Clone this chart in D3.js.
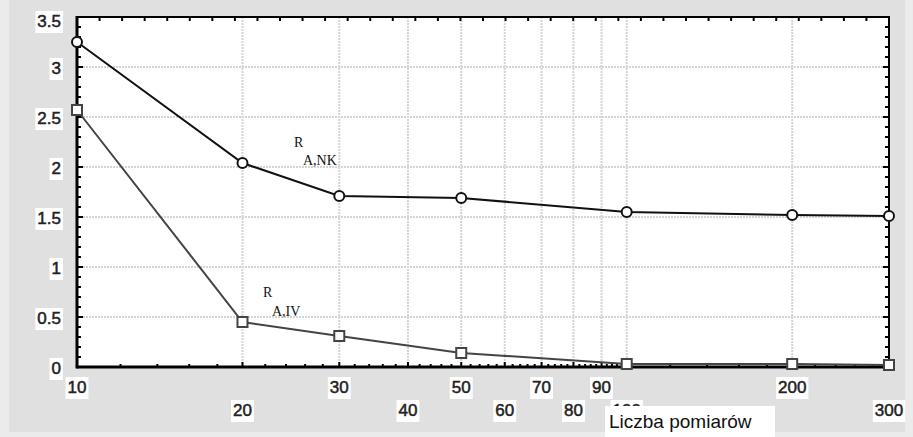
<!DOCTYPE html>
<html>
<head>
<meta charset="utf-8">
<script src="https://cdn.jsdelivr.net/npm/d3@7"></script>
<style>
  body { margin: 0; background: #ebebeb; }
  svg { display: block; }
  .tick-label { font-family: "Liberation Sans", Arial, sans-serif; font-size: 17px; fill: #222; stroke: #222; stroke-width: 0.5px; }
  .ann { font-family: "Liberation Serif", "Times New Roman", serif; font-size: 14px; fill: #111; }
</style>
</head>
<body>
<svg id="chart" width="913" height="437"></svg>
<script>
// dane
var xValues = [10, 20, 30, 50, 100, 200, 300];
var nkValues = [3.25, 2.04, 1.71, 1.69, 1.55, 1.52, 1.51];
var ivValues = [2.57, 0.45, 0.31, 0.14, 0.03, 0.03, 0.02];

var xTickValues = [10, 20, 30, 40, 50, 60, 70, 80, 90, 100, 200, 300];
var xTickLabels = ["10", "20", "30", "40", "50", "60", "70", "80", "90", "100", "200", "300"];
var xGridValues = [20, 30, 40, 50, 60, 70, 80, 90, 100, 200];
var yTickValues = [0, 0.5, 1, 1.5, 2, 2.5, 3, 3.5];
var yTickLabels = ["0", "0.5", "1", "1.5", "2", "2.5", "3", "3.5"];
var xAxisTitle = "Liczba pomiarów";

var svg = d3.select("#chart");
var plotLeft = 77, plotRight = 889, plotTop = 17, plotBottom = 367;

svg.append("rect")
    .attr("x", 9).attr("y", 0)
    .attr("width", 896).attr("height", 432)
    .attr("fill", "#e0e0e0");

var x = d3.scaleLog().domain([10, 300]).range([plotLeft, plotRight]);
var y = d3.scaleLinear().domain([0, 3.5]).range([plotBottom, plotTop]);

// pole wykresu
svg.append("rect")
    .attr("x", plotLeft).attr("y", plotTop)
    .attr("width", plotRight - plotLeft).attr("height", plotBottom - plotTop)
    .attr("fill", "#fff");

// siatka
svg.append("g").selectAll("line")
    .data(xGridValues)
    .enter().append("line")
    .attr("x1", function (d) { return x(d); })
    .attr("x2", function (d) { return x(d); })
    .attr("y1", plotTop).attr("y2", plotBottom)
    .attr("stroke", "#d4d4d4")
    .attr("stroke-width", 2)
    .attr("stroke-dasharray", "2,1");

svg.append("g").selectAll("line")
    .data(yTickValues.slice(1, -1))
    .enter().append("line")
    .attr("x1", plotLeft).attr("x2", plotRight)
    .attr("y1", function (d) { return y(d); })
    .attr("y2", function (d) { return y(d); })
    .attr("stroke", "#d4d4d4")
    .attr("stroke-width", 2)
    .attr("stroke-dasharray", "2,1");

// podzialki osi Y (lewa i prawa)
var yMinor = d3.range(0, 36).map(function (i) { return i / 10; });
function yTicks(x0, dir) {
    svg.append("g").selectAll("line")
        .data(yMinor)
        .enter().append("line")
        .attr("x1", x0)
        .attr("x2", function (d, i) { return x0 + dir * (i % 5 === 0 ? 6 : 4); })
        .attr("y1", function (d) { return y(d); })
        .attr("y2", function (d) { return y(d); })
        .attr("stroke", "#000")
        .attr("stroke-width", 2);
}
yTicks(plotLeft, 1);
yTicks(plotRight, -1);

// podzialki osi X (dolna - log)
var xMinor = [];
[10, 20, 30, 40, 50, 60, 70, 80, 90].forEach(function (b) {
    [2, 4, 6, 8].forEach(function (s) { xMinor.push(b + s); });
});
[100, 200].forEach(function (b) {
    [20, 40, 60, 80].forEach(function (s) { xMinor.push(b + s); });
});
svg.append("g").selectAll("line")
    .data(xMinor)
    .enter().append("line")
    .attr("x1", function (d) { return x(d); })
    .attr("x2", function (d) { return x(d); })
    .attr("y1", plotBottom).attr("y2", plotBottom - 3)
    .attr("stroke", "#000").attr("stroke-width", 2);
svg.append("g").selectAll("line")
    .data(xTickValues)
    .enter().append("line")
    .attr("x1", function (d) { return x(d); })
    .attr("x2", function (d) { return x(d); })
    .attr("y1", plotBottom).attr("y2", plotBottom - 5)
    .attr("stroke", "#000").attr("stroke-width", 2);

// gorna os - rownomierne podzialki
var xTop = d3.scaleLinear().domain([0, 36]).range([plotLeft, plotRight]);
svg.append("g").selectAll("line")
    .data(d3.range(1, 36))
    .enter().append("line")
    .attr("x1", function (d) { return xTop(d); })
    .attr("x2", function (d) { return xTop(d); })
    .attr("y1", plotTop).attr("y2", plotTop + 4)
    .attr("stroke", "#000").attr("stroke-width", 2);

// ramka
svg.append("rect")
    .attr("x", plotLeft).attr("y", plotTop)
    .attr("width", plotRight - plotLeft).attr("height", plotBottom - plotTop)
    .attr("fill", "none")
    .attr("stroke", "#000")
    .attr("stroke-width", 2);
svg.append("line")
    .attr("x1", plotLeft).attr("x2", plotLeft).attr("y1", plotTop - 1).attr("y2", plotBottom + 1.5)
    .attr("stroke", "#000").attr("stroke-width", 3);
svg.append("line")
    .attr("x1", plotLeft).attr("x2", plotRight + 1).attr("y1", plotBottom).attr("y2", plotBottom)
    .attr("stroke", "#000").attr("stroke-width", 3);

// serie
var line = d3.line()
    .x(function (d) { return x(d[0]); })
    .y(function (d) { return y(d[1]); });

var nkData = d3.zip(xValues, nkValues);
var ivData = d3.zip(xValues, ivValues);

svg.append("path")
    .datum(ivData)
    .attr("d", line)
    .attr("fill", "none")
    .attr("stroke", "#444")
    .attr("stroke-width", 2);

svg.append("path")
    .datum(nkData)
    .attr("d", line)
    .attr("fill", "none")
    .attr("stroke", "#111")
    .attr("stroke-width", 2);

svg.append("g").selectAll("rect")
    .data(ivData)
    .enter().append("rect")
    .attr("x", function (d) { return x(d[0]) - 5; })
    .attr("y", function (d) { return y(d[1]) - 5; })
    .attr("width", 10).attr("height", 10)
    .attr("fill", "#fff")
    .attr("stroke", "#444")
    .attr("stroke-width", 2);

svg.append("g").selectAll("circle")
    .data(nkData)
    .enter().append("circle")
    .attr("cx", function (d) { return x(d[0]); })
    .attr("cy", function (d) { return y(d[1]); })
    .attr("r", 5)
    .attr("fill", "#fff")
    .attr("stroke", "#111")
    .attr("stroke-width", 2);

// etykiety z bialym tlem
function boxedText(tx, ty, str, anchor) {
    var g = svg.append("g");
    var r = g.append("rect").attr("fill", "#fff");
    var t = g.append("text")
        .attr("class", "tick-label")
        .attr("x", tx).attr("y", ty)
        .attr("text-anchor", anchor)
        .text(str);
    var b = t.node().getBBox();
    r.attr("x", b.x - 2).attr("y", b.y - 1)
        .attr("width", b.width + 4).attr("height", b.height + 3);
    return g;
}

yTickValues.forEach(function (v, i) {
    boxedText(61, Math.max(y(v) + 7, 27), yTickLabels[i], "end");
});

xTickValues.forEach(function (v, i) {
    var row = i % 2 === 0 ? 0 : 1;
    boxedText(x(v), 393 + row * 23, xTickLabels[i], "middle");
});

// tytul osi X
var tg = svg.append("g");
tg.append("rect")
    .attr("x", 605).attr("y", 406)
    .attr("width", 170).attr("height", 31)
    .attr("fill", "#fff");
tg.append("text")
    .attr("x", 609).attr("y", 428)
    .style("font-family", "'Liberation Sans', Arial, sans-serif")
    .style("font-size", "19px")
    .attr("fill", "#111")
    .text(xAxisTitle);

// opisy serii
svg.append("text").attr("class", "ann").attr("x", 294).attr("y", 147).text("R");
svg.append("text").attr("class", "ann").attr("x", 303).attr("y", 165).text("A,NK");
svg.append("text").attr("class", "ann").attr("x", 263).attr("y", 297).text("R");
svg.append("text").attr("class", "ann").attr("x", 272).attr("y", 316).text("A,IV");
</script>
</body>
</html>
